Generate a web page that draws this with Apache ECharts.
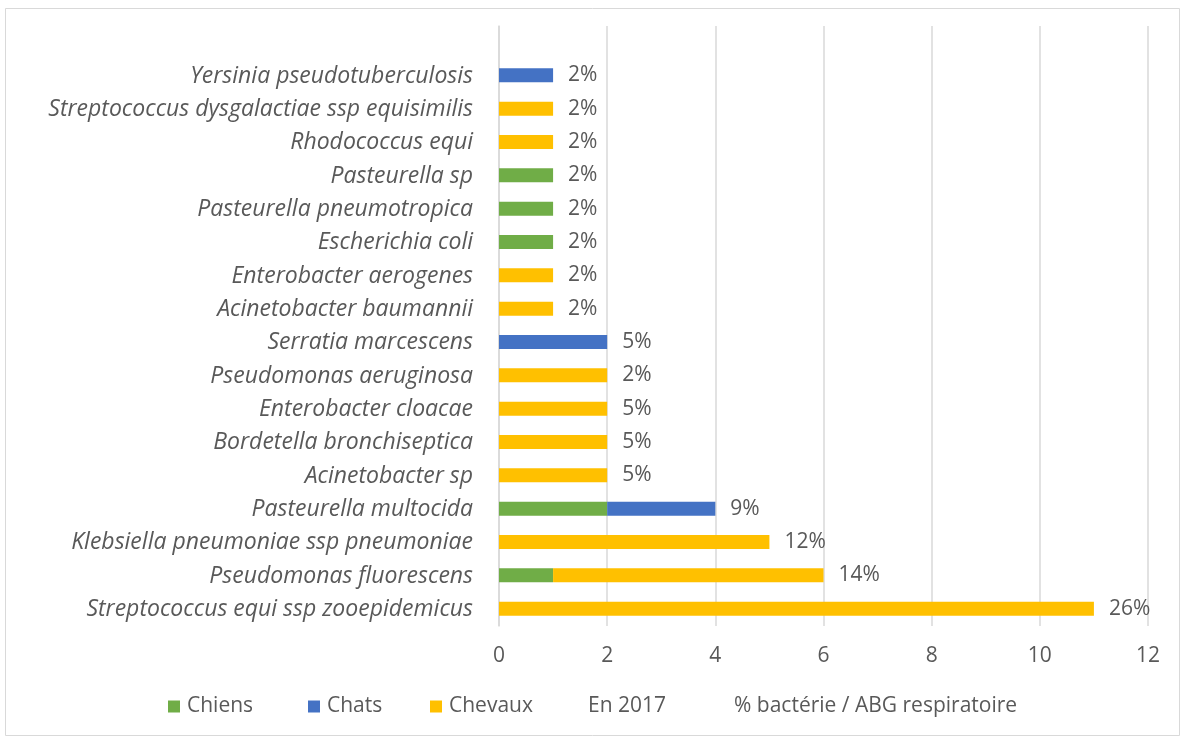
<!DOCTYPE html>
<html>
<head>
<meta charset="utf-8">
<script src="https://cdn.jsdelivr.net/npm/echarts@6/dist/echarts.min.js"></script>
<style>
  html, body { margin: 0; padding: 0; background: #fff; }
  #chart { width: 1186px; height: 740px; }
</style>
</head>
<body>
<div id="chart"></div>
<script>
// bottom to top, last entry is the empty row at the top of the plot
const categories = [
  "Streptococcus equi ssp zooepidemicus",
  "Pseudomonas fluorescens",
  "Klebsiella pneumoniae ssp pneumoniae",
  "Pasteurella multocida",
  "Acinetobacter sp",
  "Bordetella bronchiseptica",
  "Enterobacter cloacae",
  "Pseudomonas aeruginosa",
  "Serratia marcescens",
  "Acinetobacter baumannii",
  "Enterobacter aerogenes",
  "Escherichia coli",
  "Pasteurella pneumotropica",
  "Pasteurella sp",
  "Rhodococcus equi",
  "Streptococcus dysgalactiae ssp equisimilis",
  "Yersinia pseudotuberculosis",
  ""
];
const chiens  = [null, 1, null, 2, null, null, null, null, null, null, null, 1, 1, 1, null, null, null, null];
const chats   = [null, null, null, 2, null, null, null, null, 2, null, null, null, null, null, null, null, 1, null];
const chevaux = [11, 5, 5, null, 2, 2, 2, 2, null, 1, 1, null, null, null, 1, 1, null, null];
const pctLabels = ["26%", "14%", "12%", "9%", "5%", "5%", "5%", "2%", "5%", "2%", "2%", "2%", "2%", "2%", "2%", "2%", "2%", ""];
const xTicks = [0, 2, 4, 6, 8, 10, 12];

const font = "'Open Sans', 'Noto Sans', sans-serif";
const textColor = "#595959";

const chart = echarts.init(document.getElementById("chart"), null, { renderer: "canvas" });

const barBase = {
  type: "bar",
  stack: "total",
  barWidth: 14,
  emphasis: { disabled: true }
};

const legendItem = (name, left, hideIcon) => ({
  data: [hideIcon ? { name: name, itemStyle: { opacity: 0 } } : name],
  left: left,
  top: 691,
  itemWidth: 12,
  itemHeight: 12,
  itemGap: 0,
  icon: "rect",
  selectedMode: false,
  textStyle: { fontFamily: font, fontSize: 21, color: textColor, padding: [0, 0, 0, hideIcon ? -12 : 2] }
});

chart.setOption({
  backgroundColor: "#fff",
  animation: false,
  graphic: [{
    type: "rect",
    shape: { x: 5.5, y: 8.5, width: 1174, height: 727 },
    style: { fill: "none", stroke: "#d9d9d9", lineWidth: 1 },
    silent: true
  }],
  grid: { left: 499, right: 38, top: 26, bottom: 114, containLabel: false },
  legend: [
    legendItem("Chiens", 163),
    legendItem("Chats", 303),
    legendItem("Chevaux", 425),
    legendItem("En 2017", 578, true),
    legendItem("% bactérie / ABG respiratoire", 724, true)
  ],
  xAxis: {
    type: "value",
    min: xTicks[0],
    max: xTicks[xTicks.length - 1],
    interval: 2,
    axisLine: { show: false },
    axisTick: { show: false },
    splitLine: { show: true, lineStyle: { color: "#d9d9d9", width: 1.5 } },
    axisLabel: { fontFamily: font, fontSize: 21, color: textColor, margin: 20 }
  },
  yAxis: {
    type: "category",
    data: categories,
    axisLine: { show: true, lineStyle: { color: "#d9d9d9", width: 1.5 } },
    axisTick: { show: false },
    axisLabel: {
      fontFamily: font, fontSize: 23, fontStyle: "italic", color: textColor, margin: 26
    }
  },
  series: [
    Object.assign({}, barBase, { name: "Chiens", data: chiens, itemStyle: { color: "#70ad47" } }),
    Object.assign({}, barBase, { name: "Chats", data: chats, itemStyle: { color: "#4472c4" } }),
    Object.assign({}, barBase, { name: "Chevaux", data: chevaux, itemStyle: { color: "#ffc000" } }),
    Object.assign({}, barBase, {
      name: "label",
      data: categories.map((c) => (c ? 0 : null)),
      itemStyle: { color: "transparent" },
      label: {
        show: true,
        position: "right",
        distance: 15,
        fontFamily: font,
        fontSize: 21,
        color: textColor,
        formatter: (p) => pctLabels[p.dataIndex]
      }
    }),
    { type: "bar", name: "En 2017", data: [] },
    { type: "bar", name: "% bactérie / ABG respiratoire", data: [] }
  ]
});
</script>
</body>
</html>
